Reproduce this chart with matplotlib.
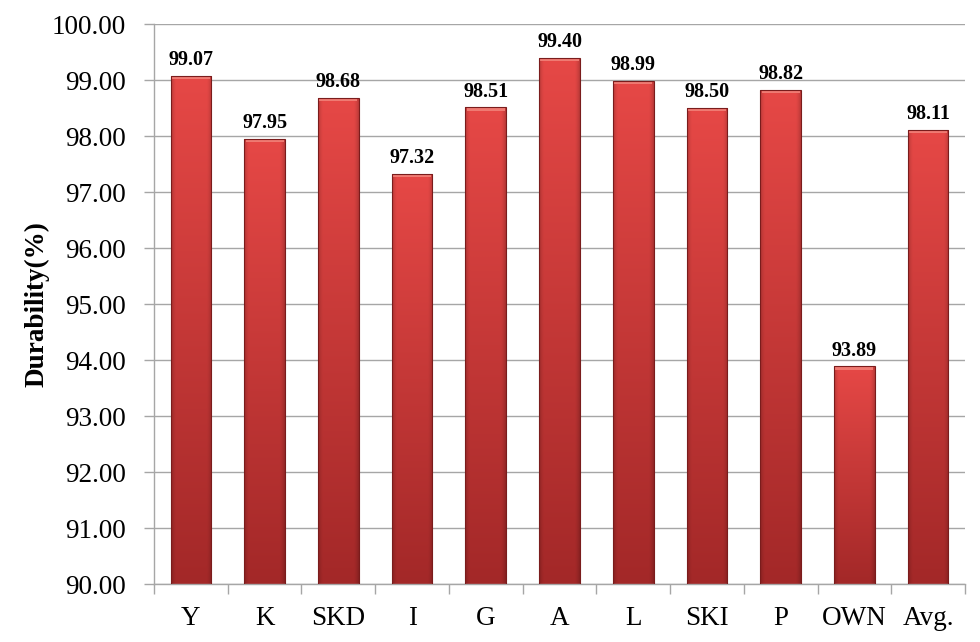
import numpy as np
import matplotlib
matplotlib.use("Agg")
import matplotlib.pyplot as plt
from matplotlib.ticker import FixedLocator, FormatStrFormatter

categories = ["Y", "K", "SKD", "I", "G", "A", "L", "SKI", "P", "OWN", "Avg."]
durability = [99.07, 97.95, 98.68, 97.32, 98.51, 99.40, 98.99, 98.50, 98.82, 93.89, 98.11]
y_ticks = [90, 91, 92, 93, 94, 95, 96, 97, 98, 99, 100]

plt.rcParams['font.family'] = ['Liberation Serif', 'DejaVu Serif']

fig = plt.figure(figsize=(9.8, 6.42), dpi=100)
ax = fig.add_axes([154/980, 58/642, 811/980, 560/642])

x = np.arange(len(categories))
width = 0.55
bars = ax.bar(x, durability, width=width, bottom=0, color='none',
              edgecolor='#7a1c1c', linewidth=0.8, zorder=3)

ymin, ymax = 90, 100
ax.set_xlim(-0.5, len(categories) - 0.5)
ax.set_ylim(ymin, ymax)

# gradient fill for each bar
top_c = np.array([230, 72, 70]) / 255
bot_c = np.array([163, 40, 40]) / 255
ny, nx = 200, 60
t = np.linspace(0, 1, ny)[:, None]  # 0 bottom -> 1 top
u = np.linspace(-1, 1, nx)[None, :]
edge = 1 - 0.18 * np.clip((np.abs(u) - 0.75) / 0.25, 0, 1) ** 1.5
for b, v in zip(bars, durability):
    x0 = b.get_x()
    w = b.get_width()
    img = (bot_c[None, None, :] * (1 - t[..., None]) + top_c[None, None, :] * t[..., None])
    img = img * edge[..., None]
    im = ax.imshow(img[::-1], extent=[x0, x0 + w, ymin, v], aspect='auto',
                   interpolation='bilinear', zorder=2)
    im.set_clip_path(b)
    cap_h = (ymax - ymin) * 0.006
    ax.add_patch(plt.Rectangle((x0 + w * 0.03, v - cap_h), w * 0.94, cap_h,
                               facecolor='#ef7a72', edgecolor='none', zorder=2.5))

ax.set_xlim(-0.5, len(categories) - 0.5)
ax.set_ylim(ymin, ymax)

for xi, v in zip(x, durability):
    ax.text(xi, v + 0.1, f"{v:.2f}", ha='center', va='bottom',
            fontsize=14.5, fontweight='bold', color='#000000', zorder=4)

grid_c = '#a6a6a6'
ax.yaxis.set_major_locator(FixedLocator(y_ticks))
ax.yaxis.set_major_formatter(FormatStrFormatter('%.2f'))
ax.grid(axis='y', color=grid_c, linewidth=1.0, zorder=0)
ax.set_axisbelow(True)

ax.set_xticks(x)
ax.set_xticklabels(categories)
ax.set_xticks(np.arange(-0.5, len(categories)), minor=True)
ax.tick_params(axis='x', which='major', length=0, pad=16, labelsize=19.5)
ax.tick_params(axis='x', which='minor', length=7, color=grid_c, width=1.0)
ax.tick_params(axis='y', which='major', length=7, color=grid_c, width=1.0,
               labelsize=19.5, pad=13)

for s in ['top', 'right']:
    ax.spines[s].set_visible(False)
for s in ['left', 'bottom']:
    ax.spines[s].set_color(grid_c)
    ax.spines[s].set_linewidth(1.0)

ax.set_ylabel("Durability(%)", fontsize=19.5, fontweight='bold', labelpad=2)

fig.savefig("out.png", dpi=100, facecolor='white')
